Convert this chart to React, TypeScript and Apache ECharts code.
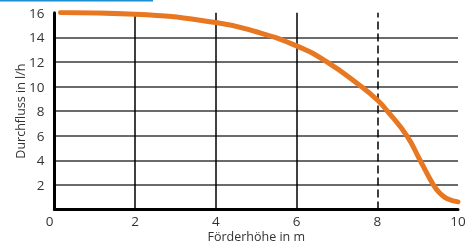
import React, { useEffect, useRef } from "react";
import * as echarts from "echarts";

const xTicks = [0, 2, 4, 6, 8, 10];
const yTicks = [0, 2, 4, 6, 8, 10, 12, 14, 16];
const solidGridX = [2, 4, 6];
const dashedGridX = [8];
const headX = [0.15, 2, 4, 5, 6, 6.75, 7.6, 8, 8.25, 8.73, 9.06, 9.39, 9.56, 9.72, 10];
const flowY = [16.02, 15.88, 15.2, 14.45, 13.3, 12, 10, 8.9, 8, 6, 4, 2, 1.3, 0.9, 0.62];
const xName = "Förderhöhe in m";
const yName = "Durchfluss in l/h";

const FONT = "Open Sans";

export default function App() {
  const ref = useRef<HTMLDivElement>(null);
  useEffect(() => {
    if (!ref.current) return;
    const chart = echarts.init(ref.current, undefined, { renderer: "svg" });
    const data = headX.map((x, i) => [x, flowY[i]]);
    chart.setOption({
      animation: false,
      textStyle: { fontFamily: FONT },
      graphic: [
        { type: "rect", shape: { x: 0, y: 0, width: 153, height: 1.5 }, style: { fill: "#1b8fd2" } },
      ],
      grid: {
        left: 54.5,
        right: 15,
        top: 12.7,
        bottom: 34.5,
        containLabel: false,
        outerBoundsMode: "none",
      },
      xAxis: {
        type: "value",
        min: xTicks[0],
        max: xTicks[xTicks.length - 1],
        interval: 2,
        name: xName,
        nameLocation: "middle",
        nameGap: 20,
        nameMoveOverlap: false,
        nameTextStyle: { fontSize: 12.5, lineHeight: 13, color: "#333", fontFamily: FONT },
        axisLine: { show: true, onZero: false, lineStyle: { color: "#000", width: 3 } },
        axisTick: { show: false },
        splitLine: { show: false },
        axisLabel: {
          margin: 4,
          fontSize: 13.5,
          lineHeight: 14,
          color: "#333",
          fontFamily: FONT,
          formatter: (v: number) => (v === 0 ? "{z|0}" : String(v)),
          rich: { z: { padding: [0, 10, 0, 0], fontSize: 13.5, lineHeight: 14, color: "#333", fontFamily: FONT } },
        },
      },
      yAxis: {
        type: "value",
        min: yTicks[0],
        max: yTicks[yTicks.length - 1],
        interval: 2,
        name: yName,
        nameLocation: "middle",
        nameGap: 28,
        nameMoveOverlap: false,
        nameTextStyle: { fontSize: 12.5, color: "#333", fontFamily: FONT },
        axisLine: { show: true, onZero: false, lineStyle: { color: "#000", width: 3 } },
        axisTick: { show: false },
        splitLine: {
          show: true,
          showMinLine: false,
          showMaxLine: false,
          lineStyle: { color: "#3a3a3a", width: 1.5 },
        },
        axisLabel: {
          margin: 10,
          fontSize: 13.5,
          color: "#333",
          fontFamily: FONT,
          formatter: (v: number) => (v === 0 ? "" : String(v)),
        },
      },
      series: [
        {
          type: "line",
          data,
          smooth: 0.5,
          symbol: "none",
          lineStyle: { color: "#e87722", width: 5, cap: "round" },
          z: 5,
          markLine: {
            silent: true,
            symbol: "none",
            label: { show: false },
            z: 1,
            data: [
              ...solidGridX.map((x) => ({ xAxis: x, lineStyle: { color: "#000", width: 1.5, type: "solid" } })),
              ...dashedGridX.map((x) => ({ xAxis: x, lineStyle: { color: "#000", width: 1.5, type: [8, 4] } })),
            ],
          },
        },
      ],
    });
    return () => chart.dispose();
  }, []);
  return <div ref={ref} style={{ position: "fixed", left: 0, top: 0, width: 473, height: 244 }} />;
}
